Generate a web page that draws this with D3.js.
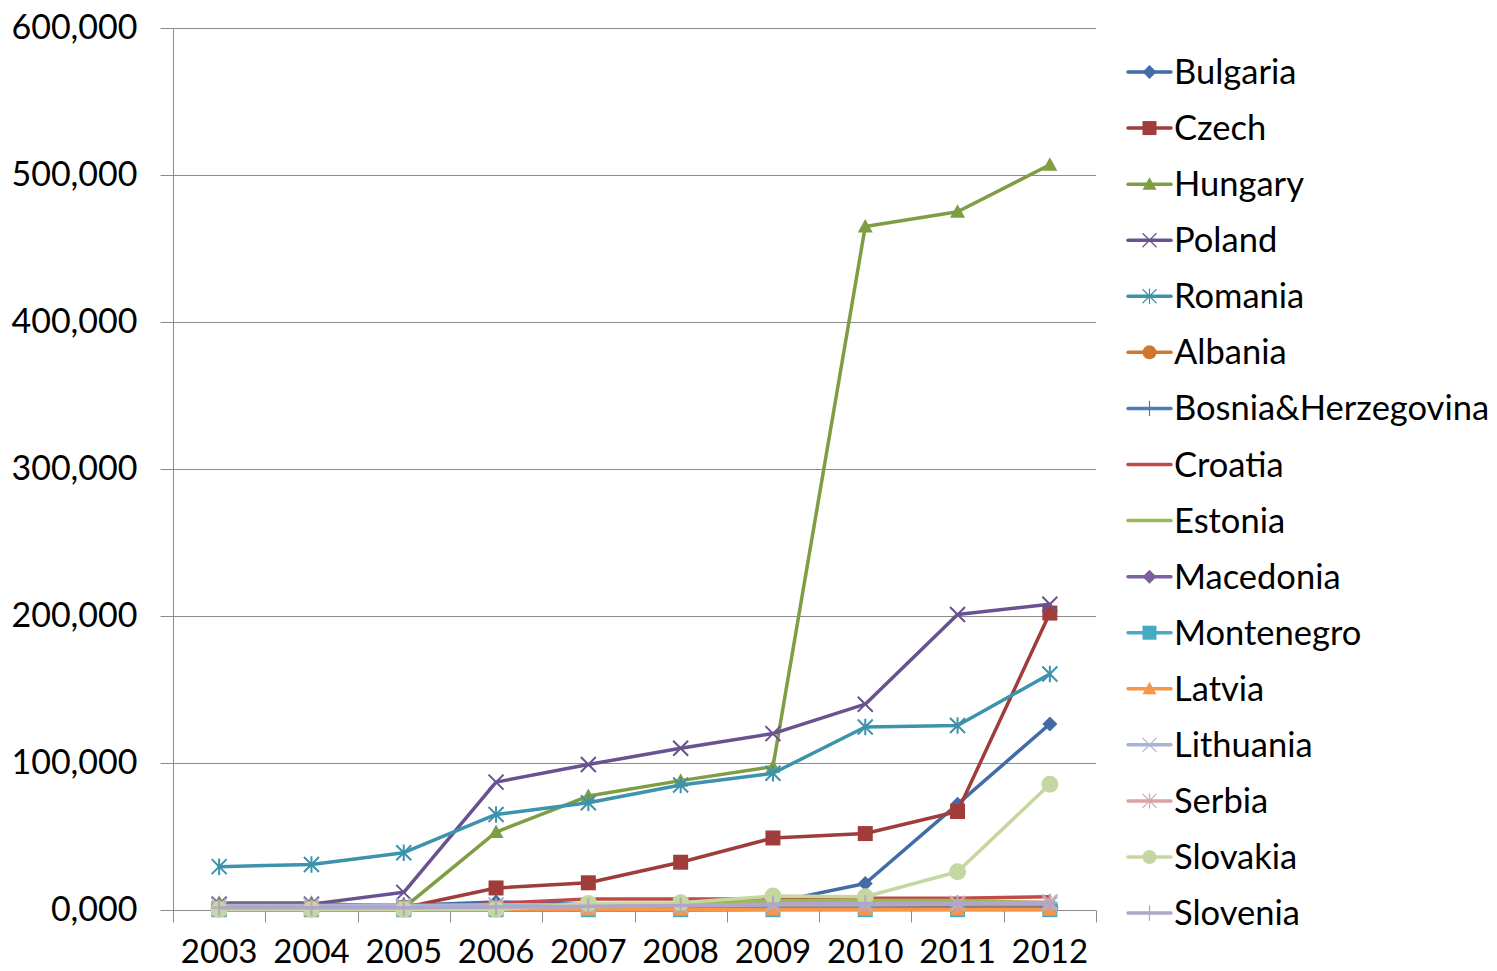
<!DOCTYPE html>
<html>
<head>
<meta charset="utf-8">
<script src="https://cdn.jsdelivr.net/npm/d3@7"></script>
<style>
  html, body { margin: 0; padding: 0; background: #fff; }
  svg { display: block; font-family: Lato, 'Open Sans', sans-serif; }
</style>
</head>
<body>
<div id="chart"></div>
<script>
const years = ['2003', '2004', '2005', '2006', '2007', '2008', '2009', '2010', '2011', '2012'];
const yTicks = [0, 100000, 200000, 300000, 400000, 500000, 600000];
const yTickLabels = ['0,000', '100,000', '200,000', '300,000', '400,000', '500,000', '600,000'];

const bulgaria   = [3500, 3500, 3000, 5500, 3500, 3500, 5000, 18000, 72000, 126500];
const czech      = [500, 500, 1500, 15000, 18500, 32500, 49000, 52000, 67000, 202000];
const hungary    = [5000, 5000, 1500, 53000, 77500, 88000, 97500, 465000, 475000, 507000];
const poland     = [4000, 4000, 12000, 87000, 99000, 110000, 120000, 140000, 201000, 208000];
const romania    = [29500, 31000, 39000, 65000, 73000, 85000, 93000, 124500, 125500, 160500];
const albania    = [1000, 1000, 1000, 1000, 1000, 1500, 1500, 1500, 1500, 1500];
const bosnia     = [3000, 3000, 3000, 3000, 3000, 3000, 3500, 3500, 3500, 3500];
const croatia    = [500, 500, 1000, 4500, 7500, 7500, 7500, 8000, 8000, 9000];
const estonia    = [2000, 2000, 2000, 2500, 3500, 4000, 6500, 6500, 6500, 5000];
const macedonia  = [0, 0, 0, 0, 0, 0, 500, 500, 500, 500];
const montenegro = [200, 200, 200, 200, 200, 200, 200, 200, 200, 200];
const latvia     = [300, 300, 300, 300, 300, 300, 300, 300, 300, 300];
const lithuania  = [3000, 3000, 3000, 3500, 3500, 3000, 3500, 3500, 4000, 4000];
const serbia     = [1000, 1000, 1000, 1500, 2000, 3000, 4000, 4500, 4500, 5500];
const slovakia   = [300, 300, 300, 300, 4500, 5000, 9500, 9000, 26000, 85500];
const slovenia   = [1500, 1500, 1500, 2000, 2500, 3000, 4000, 4500, 4500, 5000];

const series = [
  { name: 'Bulgaria', values: bulgaria, color: '#416ca6', marker: 'diamond' },
  { name: 'Czech', values: czech, color: '#a03d3a', marker: 'square' },
  { name: 'Hungary', values: hungary, color: '#7f9e44', marker: 'triangle' },
  { name: 'Poland', values: poland, color: '#6a5190', marker: 'x' },
  { name: 'Romania', values: romania, color: '#3c93ab', marker: 'star' },
  { name: 'Albania', values: albania, color: '#d0772f', marker: 'circle' },
  { name: 'Bosnia&Herzegovina', values: bosnia, color: '#4a7ebb', marker: 'plus' },
  { name: 'Croatia', values: croatia, color: '#be4b48', marker: 'none' },
  { name: 'Estonia', values: estonia, color: '#98b954', marker: 'none' },
  { name: 'Macedonia', values: macedonia, color: '#7d60a0', marker: 'diamond' },
  { name: 'Montenegro', values: montenegro, color: '#46aac5', marker: 'square' },
  { name: 'Latvia', values: latvia, color: '#f79646', marker: 'triangle' },
  { name: 'Lithuania', values: lithuania, color: '#a5b5d6', marker: 'x' },
  { name: 'Serbia', values: serbia, color: '#d8a3a2', marker: 'star' },
  { name: 'Slovakia', values: slovakia, color: '#c4d7a0', marker: 'circle' },
  { name: 'Slovenia', values: slovenia, color: '#b1a5c8', marker: 'plus' },
];

const width = 1497, height = 971;
const margin = { top: 28, right: 401, bottom: 61, left: 173 };
const gridColor = '#8c8c8c';

const svg = d3.select('#chart').append('svg')
  .attr('width', width)
  .attr('height', height);

const x = d3.scaleBand()
  .domain(years)
  .range([margin.left, width - margin.right])
  .padding(0);

const y = d3.scaleLinear()
  .domain([0, 600000])
  .range([height - margin.bottom, margin.top]);

const cx = d => x(d) + x.bandwidth() / 2;

// horizontal gridlines
svg.append('g')
  .selectAll('line')
  .data(yTicks.slice(1))
  .join('line')
  .attr('x1', margin.left)
  .attr('x2', width - margin.right)
  .attr('y1', d => Math.round(y(d)) + 0.5)
  .attr('y2', d => Math.round(y(d)) + 0.5)
  .attr('stroke', gridColor)
  .attr('stroke-width', 1);

// y axis
const yAxis = svg.append('g')
  .attr('transform', `translate(${margin.left + 0.5},0)`)
  .call(d3.axisLeft(y)
    .tickValues(yTicks)
    .tickSize(13)
    .tickPadding(23)
    .tickFormat((d, i) => yTickLabels[i]));
yAxis.select('.domain').attr('stroke', gridColor).attr('d', `M0,${margin.top}V${height - margin.bottom}`);
yAxis.selectAll('.tick line').attr('stroke', gridColor);
yAxis.selectAll('.tick text')
  .attr('font-size', 34)
  .attr('font-family', 'Lato, sans-serif')
  .attr('fill', '#000');

// x axis
const xAxisG = svg.append('g')
  .attr('transform', `translate(0,${Math.round(y(0)) + 0.5})`);
xAxisG.append('line')
  .attr('x1', margin.left)
  .attr('x2', width - margin.right)
  .attr('stroke', gridColor);
xAxisG.selectAll('line.tk')
  .data(d3.range(years.length + 1))
  .join('line')
  .attr('class', 'tk')
  .attr('x1', i => Math.round(margin.left + i * x.bandwidth()) + 0.5)
  .attr('x2', i => Math.round(margin.left + i * x.bandwidth()) + 0.5)
  .attr('y1', 0)
  .attr('y2', 12)
  .attr('stroke', gridColor);
xAxisG.selectAll('text')
  .data(years)
  .join('text')
  .attr('x', d => cx(d))
  .attr('y', 52)
  .attr('text-anchor', 'middle')
  .attr('font-size', 33)
  .attr('fill', '#000')
  .text(d => d);

// marker drawing
function drawMarker(g, type, color, s, thin) {
  const h = s / 2;
  if (type === 'diamond') {
    g.append('path').attr('d', `M0,${-h}L${h},0L0,${h}L${-h},0Z`).attr('fill', color);
  } else if (type === 'square') {
    g.append('rect').attr('x', -h).attr('y', -h).attr('width', s).attr('height', s).attr('fill', color);
  } else if (type === 'triangle') {
    g.append('path').attr('d', `M0,${-h}L${h},${h * 0.8}L${-h},${h * 0.8}Z`).attr('fill', color);
  } else if (type === 'circle') {
    g.append('circle').attr('r', h).attr('fill', color);
  } else if (type === 'x' || type === 'star' || type === 'plus') {
    const d = [];
    if (type !== 'plus') d.push(`M${-h},${-h}L${h},${h}M${-h},${h}L${h},${-h}`);
    if (type !== 'x') d.push(`M0,${-h * 1.1}L0,${h * 1.1}`);
    if (type === 'plus') d.push(`M${-h},0L${h},0`);
    g.append('path').attr('d', d.join('')).attr('fill', 'none')
      .attr('stroke', color).attr('stroke-width', thin ? 1.2 : 2);
  }
}

const line = d3.line()
  .x((d, i) => cx(years[i]))
  .y(d => y(d));

const plot = svg.append('g');
series.forEach(s => {
  const g = plot.append('g');
  g.append('path')
    .attr('d', line(s.values))
    .attr('fill', 'none')
    .attr('stroke', s.color)
    .attr('stroke-width', 3.5)
    .attr('stroke-linejoin', 'round')
    .attr('stroke-linecap', 'round');
  if (s.marker !== 'none') {
    s.values.forEach((v, i) => {
      const m = g.append('g').attr('transform', `translate(${cx(years[i])},${y(v)})`);
      drawMarker(m, s.marker, s.color, s.marker === 'circle' ? 17 : 15, false);
    });
  }
});

// legend
const legend = svg.append('g');
const legendTop = 72, legendStep = 56.07;
series.forEach((s, i) => {
  const g = legend.append('g').attr('transform', `translate(1128,${legendTop + i * legendStep})`);
  g.append('line')
    .attr('x1', 0).attr('x2', 43)
    .attr('stroke', s.color)
    .attr('stroke-width', 3.5)
    .attr('stroke-linecap', 'round');
  if (s.marker !== 'none') {
    const m = g.append('g').attr('transform', 'translate(21.5,0)');
    drawMarker(m, s.marker, s.color, 14, true);
  }
  g.append('text')
    .attr('x', 46)
    .attr('y', 0)
    .attr('dy', '0.35em')
    .attr('font-size', 34.5)
    .attr('fill', '#000')
    .text(s.name);
});
</script>
</body>
</html>
